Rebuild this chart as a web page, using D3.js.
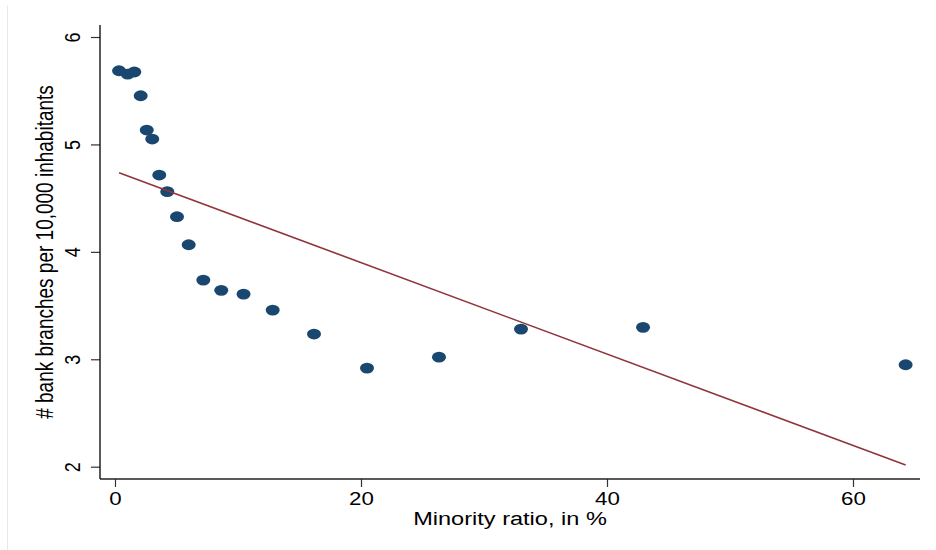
<!DOCTYPE html>
<html>
<head>
<meta charset="utf-8">
<script src="https://cdn.jsdelivr.net/npm/d3@7"></script>
<style>
  html, body { margin: 0; padding: 0; background: #fff; }
  svg { display: block; }
  text { font-family: "Liberation Sans", Arial, Helvetica, sans-serif; fill: #000; }
</style>
</head>
<body>
<svg id="chart" width="936" height="550"></svg>
<script>
// ---- data ----
const minorityRatio = [0.33, 1.03, 1.57, 2.09, 2.58, 3.03, 3.60, 4.25, 5.04, 5.99,
                       7.18, 8.64, 10.45, 12.82, 16.18, 20.49, 26.34, 33.01, 42.93, 64.28];
const branches      = [5.686, 5.655, 5.674, 5.453, 5.134, 5.050, 4.715, 4.560, 4.327, 4.066,
                       3.737, 3.642, 3.607, 3.458, 3.235, 2.918, 3.020, 3.281, 3.297, 2.949];
const fitX = [0.33, 64.28];
const fitY = [4.737, 2.015];
const xTicks = [0, 20, 40, 60];
const yTicks = [2, 3, 4, 5, 6];
const xTitle = "Minority ratio, in %";
const yTitle = "# bank branches per 10,000 inhabitants";

// ---- layout ----
const svg = d3.select("#chart");
const SX = 1.24;            // horizontal stretch of the reference image
const plot = { left: 100, right: 920, top: 25, bottom: 479 };

const x = d3.scaleLinear().domain([0, 60]).range([115, 853]);
const y = d3.scaleLinear().domain([2, 6]).range([466.7, 37]);

// faint outer border line
svg.append("line")
  .attr("x1", 7.5).attr("x2", 7.5).attr("y1", 5.5).attr("y2", 550)
  .attr("stroke", "#e9e9e9").attr("stroke-width", 1);

// y axis
const gy = svg.append("g").attr("transform", `translate(${plot.left},0)`)
  .call(d3.axisLeft(y).tickValues(yTicks).tickSize(9).tickFormat(d3.format("d")));
gy.select(".domain").remove();
gy.selectAll(".tick line").attr("stroke", "#333").attr("stroke-width", 1.2);
gy.selectAll(".tick text")
  .attr("x", null).attr("dy", null).attr("y", null)
  .attr("text-anchor", "middle")
  .attr("font-size", 18)
  .attr("transform", `translate(-20,0) scale(${SX},1) rotate(-90)`);

// x axis
const gx = svg.append("g").attr("transform", `translate(0,${plot.bottom})`)
  .call(d3.axisBottom(x).tickValues(xTicks).tickSize(8).tickFormat(d3.format("d")));
gx.select(".domain").remove();
gx.selectAll(".tick line").attr("stroke", "#333").attr("stroke-width", 1.2);
gx.selectAll(".tick text")
  .attr("y", 26).attr("dy", null)
  .attr("text-anchor", "middle")
  .attr("font-size", 18)
  .attr("transform", `scale(${SX},1)`);

// axis lines
svg.append("line")
  .attr("x1", plot.left).attr("x2", plot.left)
  .attr("y1", plot.top).attr("y2", plot.bottom)
  .attr("stroke", "#000").attr("stroke-width", 1.3);
svg.append("line")
  .attr("x1", plot.left).attr("x2", plot.right)
  .attr("y1", plot.bottom).attr("y2", plot.bottom)
  .attr("stroke", "#222").attr("stroke-width", 1.3);

// axis titles
svg.append("text")
  .attr("text-anchor", "middle").attr("font-size", 19)
  .attr("transform", `translate(${(plot.left + plot.right) / 2},525) scale(${SX},1)`)
  .text(xTitle);
svg.append("text")
  .attr("text-anchor", "middle").attr("font-size", 19)
  .attr("transform", `translate(53,${(plot.top + plot.bottom) / 2}) scale(${SX},1) rotate(-90)`)
  .text(yTitle);

// scatter points
svg.append("g").selectAll("ellipse")
  .data(minorityRatio.map((v, i) => [v, branches[i]]))
  .join("ellipse")
  .attr("cx", d => x(d[0]))
  .attr("cy", d => y(d[1]))
  .attr("rx", 7).attr("ry", 5.4)
  .attr("fill", "#1a476f");

// fitted line
svg.append("path")
  .datum(fitX.map((v, i) => [v, fitY[i]]))
  .attr("d", d3.line().x(d => x(d[0])).y(d => y(d[1])))
  .attr("fill", "none")
  .attr("stroke", "#90353b")
  .attr("stroke-width", 1.6);
</script>
</body>
</html>
